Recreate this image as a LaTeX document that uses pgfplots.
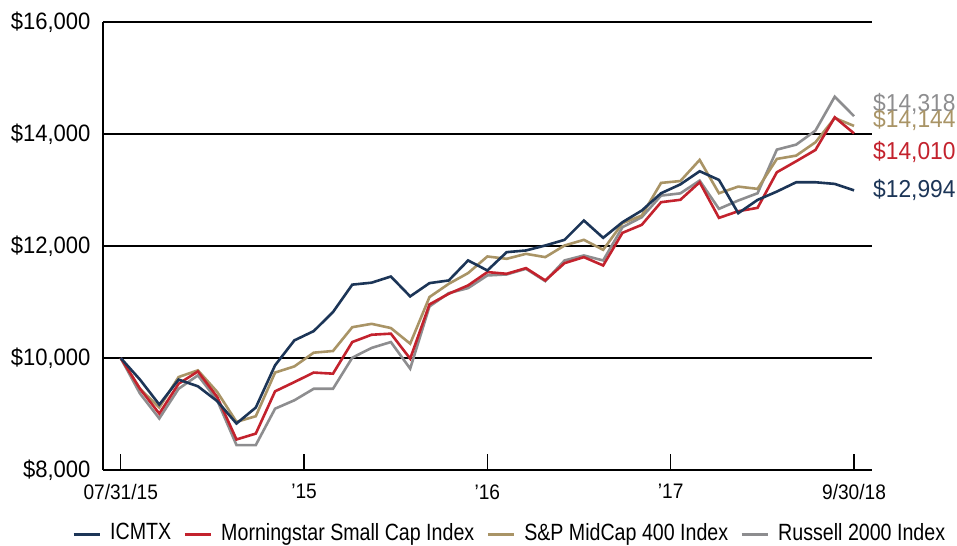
\documentclass[border=0pt]{standalone}
\usepackage{fontspec}
\setmainfont{Liberation Sans}
\newfontfamily\fY{Liberation Sans}[FakeStretch=0.93]
\newfontfamily\fX{Liberation Sans}[FakeStretch=0.91]
\newfontfamily\fL{Liberation Sans}[FakeStretch=0.835]
\usepackage{pgfplots}
\usepackage{pgfplotstable}
\pgfplotsset{compat=1.18}
\usetikzlibrary{calc}
\definecolor{navy}{HTML}{1C3557}
\definecolor{cred}{HTML}{C3222D}
\definecolor{tan}{HTML}{A99466}
\definecolor{cgray}{HTML}{8D8D8F}
\pgfplotstableread{
i navy red tan gray
0 10000 10000 10000 10000
1 9614 9450 9450 9365
2 9168 9007 9115 8920
3 9614 9540 9660 9450
4 9495 9760 9780 9690
5 9230 9305 9395 9245
6 8830 8545 8860 8445
7 9115 8650 8960 8445
8 9870 9405 9740 9095
9 10315 9570 9850 9245
10 10480 9740 10095 9450
11 10820 9720 10125 9450
12 11310 10285 10550 10005
13 11345 10415 10610 10180
14 11455 10435 10535 10285
15 11100 9988 10256 9810
16 11337 10957 11088 10921
17 11385 11147 11325 11159
18 11742 11296 11516 11248
19 11563 11534 11813 11474
20 11890 11504 11771 11492
21 11920 11605 11860 11593
22 12009 11385 11801 11373
23 12110 11694 12009 11742
24 12455 11801 12110 11831
25 12146 11652 11932 11742
26 12425 12235 12407 12336
27 12633 12378 12544 12514
28 12942 12782 13127 12900
29 13100 12825 13160 12940
30 13335 13138 13537 13168
31 13180 12502 12942 12663
32 12586 12621 13061 12812
33 12823 12681 13020 12942
34 12972 13317 13555 13721
35 13138 13513 13614 13810
36 13138 13715 13852 14060
37 13109 14298 14286 14666
38 12994 14010 14144 14318
}\datatable
\begin{document}
\begin{tikzpicture}
\begin{axis}[
  name=ax,
  scale only axis,
  width=769pt, height=448pt,
  xmin=-0.917, xmax=38.93,
  ymin=8000, ymax=16000,
  scaled y ticks=false,
  axis x line=bottom, axis y line=left,
  axis line style={-, line width=1.2pt, black},
  ymajorgrids, grid style={black, line width=1.2pt},
  xtick={0,9.5,19,28.5,38},
  xticklabels={07/31/15,’15,’16,’17,9/30/18},
  ytick={8000,10000,12000,14000,16000},
  yticklabels={{\$8,000},{\$10,000},{\$12,000},{\$14,000},{\$16,000}},
  tick align=inside,
  major tick length=16pt,
  ytick style={draw=none},
  xtick style={black, line width=1.2pt},
  yticklabel style={font=\fY\fontsize{23.7}{24}\selectfont, xshift=-9pt},
  xticklabel style={font=\fX\fontsize{21}{22}\selectfont, yshift=-11pt},
  clip=false,
  legend columns=4,
  legend style={at={(-0.0403,-0.139)}, anchor=west, draw=none, fill=none, inner sep=0pt,
    font=\fL\fontsize{23.5}{24}\selectfont,
    nodes={inner sep=0pt},
    /tikz/every odd column/.style={column sep=9pt},
    /tikz/every even column/.style={column sep=12pt}},
  legend image code/.code={\draw[#1, line width=3pt] (0pt,-2pt) -- (26pt,-2pt);},
]
\addplot[cgray, line width=2.6pt, forget plot] table[x=i,y=gray] {\datatable};
\addplot[tan, line width=2.6pt, forget plot] table[x=i,y=tan] {\datatable};
\addplot[cred, line width=2.6pt, forget plot] table[x=i,y=red] {\datatable};
\addplot[navy, line width=2.6pt, forget plot] table[x=i,y=navy] {\datatable};
\addlegendimage{navy}
\addlegendentry{ICMTX}
\addlegendimage{cred}
\addlegendentry{Morningstar Small Cap Index}
\addlegendimage{tan}
\addlegendentry{S\&P MidCap 400 Index}
\addlegendimage{cgray}
\addlegendentry{Russell 2000 Index}
\node[anchor=west, text=cgray, font=\fY\fontsize{24.5}{25}\selectfont, inner sep=0pt] at (axis cs:38.98,14536) {\$14,318};
\node[anchor=west, text=tan, font=\fY\fontsize{24.5}{25}\selectfont, inner sep=0pt] at (axis cs:38.98,14250) {\$14,144};
\node[anchor=west, text=cred, font=\fY\fontsize{24.5}{25}\selectfont, inner sep=0pt] at (axis cs:38.98,13679) {\$14,010};
\node[anchor=west, text=navy, font=\fY\fontsize{24.5}{25}\selectfont, inner sep=0pt] at (axis cs:38.98,13000) {\$12,994};
\end{axis}
\pgfresetboundingbox
\path[use as bounding box] ($(ax.south west)+(-103pt,-76pt)$) rectangle ($(ax.north east)+(85pt,22pt)$);
\end{tikzpicture}
\end{document}
